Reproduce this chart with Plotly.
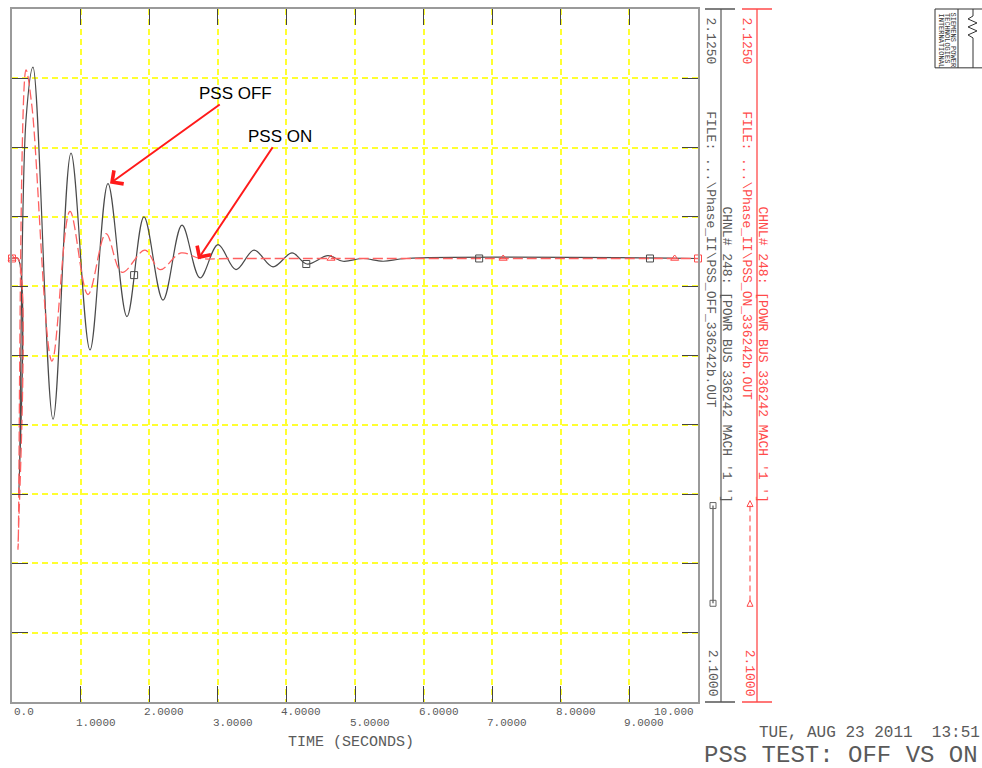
import plotly.graph_objects as go

# ---------------- data ----------------
off_t = [0.0, 0.087, 0.102, 0.204, 0.306, 0.598, 0.860, 1.137, 1.399, 1.676, 1.924,
         2.201, 2.478, 2.741, 3.003, 3.265, 3.528, 3.805, 4.082, 4.300, 4.606, 4.825,
         5.117, 5.408, 5.750, 10.0]
off_v = [2.1160, 2.1160, 2.1075, 2.1210, 2.1229, 2.1102, 2.1198, 2.1127, 2.1187, 2.1139, 2.1175,
         2.1145, 2.1172, 2.1153, 2.1165, 2.1156, 2.1163, 2.1157, 2.1162, 2.1158, 2.1161, 2.1159,
         2.1160, 2.1159, 2.1160, 2.1160]

on_t = [0.0, 0.087, 0.088, 0.204, 0.290, 0.583, 0.845, 1.108, 1.370, 1.603, 1.939,
        2.157, 2.464, 2.741, 3.200, 10.0]
on_v = [2.1160, 2.1160, 2.1055, 2.1228, 2.1215, 2.1123, 2.1177, 2.1147, 2.1169, 2.1155, 2.1163,
        2.1156, 2.1162, 2.1160, 2.1160, 2.1160]

off_marker_t = [1.78, 4.29, 6.81, 9.30]
off_marker_v = [2.1154, 2.1158, 2.1160, 2.1160]
on_tri_t = [0.0, 4.65, 7.16, 9.66]
on_tri_v = [2.1160, 2.1160, 2.1160, 2.1160]
on_sq_t = [0.0, 10.0]
on_sq_v = [2.1160, 2.1160]

x_ticks = [0, 1, 2, 3, 4, 5, 6, 7, 8, 9, 10]
x_tick_labels = ["0.0", "1.0000", "2.0000", "3.0000", "4.0000", "5.0000",
                 "6.0000", "7.0000", "8.0000", "9.0000", "10.000"]
y_ticks = [2.1000, 2.1025, 2.1050, 2.1075, 2.1100, 2.1125, 2.1150, 2.1175, 2.1200, 2.1225, 2.1250]
y_top_label = "2.1250"
y_bottom_label = "2.1000"

off_file = r"FILE: ...\Phase_II\PSS_OFF_336242b.OUT"
on_file = r"FILE: ...\Phase_II\PSS_ON_336242b.OUT"
chnl = "CHNL# 248: [POWR BUS 336242 MACH '1 ']"
date_text = "TUE, AUG 23 2011\u00a0\u00a013:51"
title_text = "PSS TEST: OFF VS ON"
logo_lines = ["SIEMENS POWER", "TECHNOLOGIES", "INTERNATIONAL"]

# ---------------- styling ----------------
MONO = "Liberation Mono"
GRAY = "#5a5a5a"
BLACKLINE = "#4a4a4a"
RED = "#ff4a4a"
REDLINE = "#ff6060"

L, R, T, B = 12, 698, 7, 702


def px(x):
    return (x - L) / (R - L)


def py(y):
    return (B - y) / (B - T)


fig = go.Figure()
fig.add_trace(go.Scatter(x=off_t, y=off_v, mode="lines",
                         line=dict(color=BLACKLINE, width=1.2, shape="spline", smoothing=1.0),
                         hoverinfo="skip"))
fig.add_trace(go.Scatter(x=on_t, y=on_v, mode="lines",
                         line=dict(color=REDLINE, width=1.3, dash="10px,4px", shape="spline", smoothing=1.0),
                         hoverinfo="skip"))
fig.add_trace(go.Scatter(x=off_marker_t, y=off_marker_v, mode="markers", cliponaxis=False,
                         marker=dict(symbol="square-open", size=7, color=BLACKLINE, line=dict(width=1))))
fig.add_trace(go.Scatter(x=on_tri_t, y=on_tri_v, mode="markers", cliponaxis=False,
                         marker=dict(symbol="triangle-up-open", size=7, color=RED, line=dict(width=1))))
fig.add_trace(go.Scatter(x=on_sq_t, y=on_sq_v, mode="markers", cliponaxis=False,
                         marker=dict(symbol="square-open", size=7, color=RED, line=dict(width=1))))

axis_common = dict(showticklabels=False, ticks="inside", ticklen=16, tickcolor="#444", tickwidth=1.3,
                   showline=True, linecolor="#9a9a9a", linewidth=2, mirror="ticks",
                   showgrid=True, gridcolor="#ffff30", griddash="6px,4px", gridwidth=1.5,
                   zeroline=False, fixedrange=True)

fig.update_xaxes(range=[0, 10], tickvals=x_ticks, **axis_common)
fig.update_yaxes(range=[2.1, 2.125], tickvals=y_ticks, **axis_common)

ann = []
# staggered x tick labels
for i, (tv, lab) in enumerate(zip(x_ticks, x_tick_labels)):
    ypix = 712 if i % 2 == 0 else 723
    if i == 0:
        xa, xs = "left", 0
    elif i == len(x_ticks) - 1:
        xa, xs = "right", -2
    else:
        xa, xs = "left", -7
    ann.append(dict(x=tv, y=py(ypix), xref="x", yref="paper", text=lab, showarrow=False,
                    xanchor=xa, yanchor="middle", xshift=xs,
                    font=dict(family=MONO, size=11, color=GRAY)))

ann.append(dict(x=px(351), y=py(743), xref="paper", yref="paper", text="TIME (SECONDS)",
                showarrow=False, xanchor="center", yanchor="middle",
                font=dict(family=MONO, size=15, color=GRAY)))


def rot(xp, ytop, text, color, size=13, anchor="top"):
    return dict(x=px(xp), y=py(ytop), xref="paper", yref="paper", text=text, showarrow=False,
                textangle=90, xanchor="center", yanchor=anchor,
                font=dict(family=MONO, size=size, color=color))


ann += [
    rot(711, 13, y_top_label, GRAY),
    rot(711, 107, off_file, GRAY),
    rot(727, 203, chnl, GRAY),
    rot(712, 647, y_bottom_label, GRAY),
    rot(747, 13, y_top_label, RED),
    rot(747, 107, on_file, RED),
    rot(763, 203, chnl, RED),
    rot(749, 647, y_bottom_label, RED),
]

# bottom-right texts
ann.append(dict(x=px(757), y=py(733), xref="paper", yref="paper", text=date_text, showarrow=False,
                xanchor="left", yanchor="middle", font=dict(family=MONO, size=16, color=GRAY)))
ann.append(dict(x=px(702), y=py(756), xref="paper", yref="paper", text=title_text, showarrow=False,
                xanchor="left", yanchor="middle", font=dict(family=MONO, size=24, color=GRAY)))

# logo texts
for xp, t in zip([953, 947, 941], logo_lines):
    ann.append(dict(x=px(xp), y=py(9), xref="paper", yref="paper", text=t, showarrow=False,
                    textangle=90, xanchor="center", yanchor="top",
                    font=dict(family=MONO, size=7, color="#333")))

# arrow annotations
ann.append(dict(x=px(110), y=py(182), xref="paper", yref="paper", text="PSS OFF",
                showarrow=True, ax=125, ay=-90, arrowhead=4, arrowsize=1.6, arrowwidth=2,
                arrowcolor="#ff1a1a", font=dict(family="Liberation Sans", size=17, color="black")))
ann.append(dict(x=px(198), y=py(258), xref="paper", yref="paper", text="PSS ON",
                showarrow=True, ax=82, ay=-123, arrowhead=4, arrowsize=1.6, arrowwidth=2,
                arrowcolor="#ff1a1a", font=dict(family="Liberation Sans", size=17, color="black")))

shapes = []


def line(x0, y0, x1, y1, color, width=1.3, dash=None):
    d = dict(type="line", xref="paper", yref="paper", x0=px(x0), y0=py(y0), x1=px(x1), y1=py(y1),
             line=dict(color=color, width=width))
    if dash:
        d["line"]["dash"] = dash
    return d


# black panel
shapes += [
    line(721, 7, 721, 702, "#9a9a9a", 2),
    line(705, 7, 735, 7, "#555", 1.5),
    line(705, 702, 735, 702, "#555", 1.5),
    line(713, 505, 713, 603, "#777", 1.5),
]
for yc in (505, 603):
    shapes.append(dict(type="rect", xref="paper", yref="paper", x0=px(710), x1=px(716),
                       y0=py(yc + 3), y1=py(yc - 3), line=dict(color="#666", width=1)))
# red panel
shapes += [
    line(757, 7, 757, 702, RED, 1.3),
    line(742, 7, 772, 7, RED, 1.5),
    line(742, 702, 772, 702, RED, 1.5),
    line(750, 505, 750, 601, REDLINE, 1.2, "6px,4px"),
]
for yc in (503, 603):
    shapes.append(dict(type="path", xref="paper", yref="paper",
                       path=f"M {px(747)} {py(yc + 3)} L {px(753)} {py(yc + 3)} L {px(750)} {py(yc - 3)} Z",
                       line=dict(color=RED, width=1)))

# logo
shapes += [
    dict(type="rect", xref="paper", yref="paper", x0=px(935), x1=px(995), y0=py(66), y1=py(7),
         line=dict(color="#333", width=1)),
    line(958, 7, 958, 66, "#333", 1),
]
zig = [(973, 7), (973, 14), (968, 17), (977, 21), (968, 25), (977, 29), (968, 33), (973, 36), (973, 66)]
shapes.append(dict(type="path", xref="paper", yref="paper",
                   path="M " + " L ".join(f"{px(a)} {py(b)}" for a, b in zig),
                   line=dict(color="#333", width=1)))

fig.update_layout(width=982, height=768, margin=dict(l=L, r=982 - R, t=T, b=768 - B, pad=0),
                  paper_bgcolor="white", plot_bgcolor="white", showlegend=False,
                  annotations=ann, shapes=shapes)

fig.write_html("out.html", config={"displayModeBar": False},
               post_script="document.body.style.margin='0px';document.body.style.overflow='hidden';")
